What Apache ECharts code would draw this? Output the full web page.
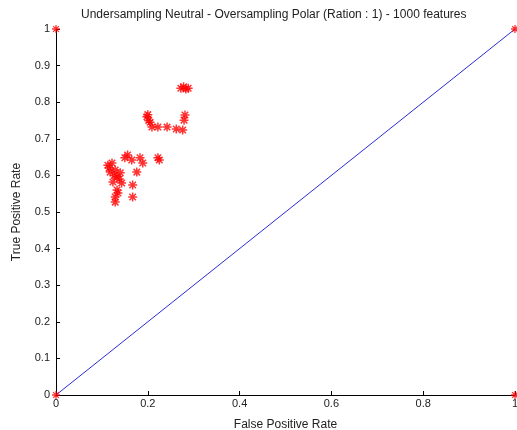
<!DOCTYPE html>
<html>
<head>
<meta charset="utf-8">
<script src="https://cdn.jsdelivr.net/npm/echarts@6/dist/echarts.min.js"></script>
<style>
  html, body { margin: 0; padding: 0; background: #fff; }
</style>
</head>
<body>
<div id="main" style="width:517px;height:430px;"></div>
<script>
// ROC points (false positive rate, true positive rate)
var fpr = [0.272, 0.278, 0.283, 0.288, 0.281, 0.279, 0.276,
           0.198, 0.202, 0.205, 0.200, 0.209, 0.222, 0.242, 0.262,
           0.156, 0.150, 0.165, 0.183, 0.189, 0.222, 0.225,
           0.113, 0.122, 0.129, 0.118, 0.140, 0.133, 0.124, 0.143, 0.176,
           0.133, 0.129, 0.129, 0.167, 0.167, 0.135, 0.116, 0.127, 0.138];
var tpr = [0.838, 0.842, 0.836, 0.838, 0.765, 0.751, 0.724,
           0.760, 0.750, 0.745, 0.766, 0.732, 0.732, 0.732, 0.727,
           0.656, 0.648, 0.642, 0.648, 0.634, 0.648, 0.642,
           0.628, 0.634, 0.615, 0.609, 0.607, 0.596, 0.582, 0.579, 0.609,
           0.560, 0.541, 0.527, 0.574, 0.541, 0.552, 0.620, 0.600, 0.590];
// corner points
var cornerX = [0, 0, 1, 1];
var cornerY = [0, 1, 0, 1];
// chance line
var diagX = [0, 1];
var diagY = [0, 1];

var star = 'path://M0,-5L0,5M-5,0L5,0M-3.6,-3.6L3.6,3.6M-3.6,3.6L3.6,-3.6';

function pairs(xs, ys) {
  return xs.map(function (x, i) { return [x, ys[i]]; });
}

var myChart = echarts.init(document.getElementById('main'));
var font = 'Liberation Sans, Arial, sans-serif';
var option = {
  animation: false,
  title: {
    text: 'Undersampling Neutral - Oversampling Polar (Ration : 1) - 1000 features',
    left: 76,
    top: 4,
    textStyle: { fontSize: 12, fontWeight: 'normal', color: '#222', fontFamily: font }
  },
  grid: { left: 56, right: 2, top: 29, bottom: 35, containLabel: false, outerBoundsMode: 'none' },
  xAxis: {
    type: 'value',
    min: 0, max: 1, interval: 0.2,
    name: 'False Positive Rate',
    nameLocation: 'middle',
    nameGap: 24,
    nameTextStyle: { fontSize: 12, color: '#222', fontFamily: font },
    axisLine: { lineStyle: { color: '#000', width: 1 } },
    axisTick: { inside: true, length: 4, lineStyle: { color: '#000' } },
    axisLabel: { fontSize: 11, color: '#222', margin: 3, fontFamily: font,
      formatter: function (v) { return String(+v.toFixed(1)); } },
    splitLine: { show: false }
  },
  yAxis: {
    type: 'value',
    min: 0, max: 1, interval: 0.1,
    name: 'True Positive Rate',
    nameLocation: 'middle',
    nameGap: 33,
    nameTextStyle: { fontSize: 12, color: '#222', fontFamily: font },
    axisLine: { lineStyle: { color: '#000', width: 1 } },
    axisTick: { inside: true, length: 4, lineStyle: { color: '#000' } },
    axisLabel: { fontSize: 11, color: '#222', margin: 6, fontFamily: font,
      formatter: function (v) { return String(+v.toFixed(1)); } },
    splitLine: { show: false }
  },
  series: [
    {
      type: 'line',
      data: pairs(diagX, diagY),
      showSymbol: false,
      lineStyle: { color: '#2b2bd6', width: 1 },
      z: 1
    },
    {
      type: 'scatter',
      data: pairs(fpr, tpr),
      symbol: star,
      symbolSize: 9,
      itemStyle: { color: '#ff0000', borderColor: '#ff0000', borderWidth: 1.5 },
      z: 3
    },
    {
      type: 'scatter',
      data: pairs(cornerX, cornerY),
      symbol: star,
      symbolSize: 8,
      clip: false,
      itemStyle: { color: '#ff0000', borderColor: '#ff0000', borderWidth: 1.3 },
      z: 4
    }
  ]
};
myChart.setOption(option);
</script>
</body>
</html>
